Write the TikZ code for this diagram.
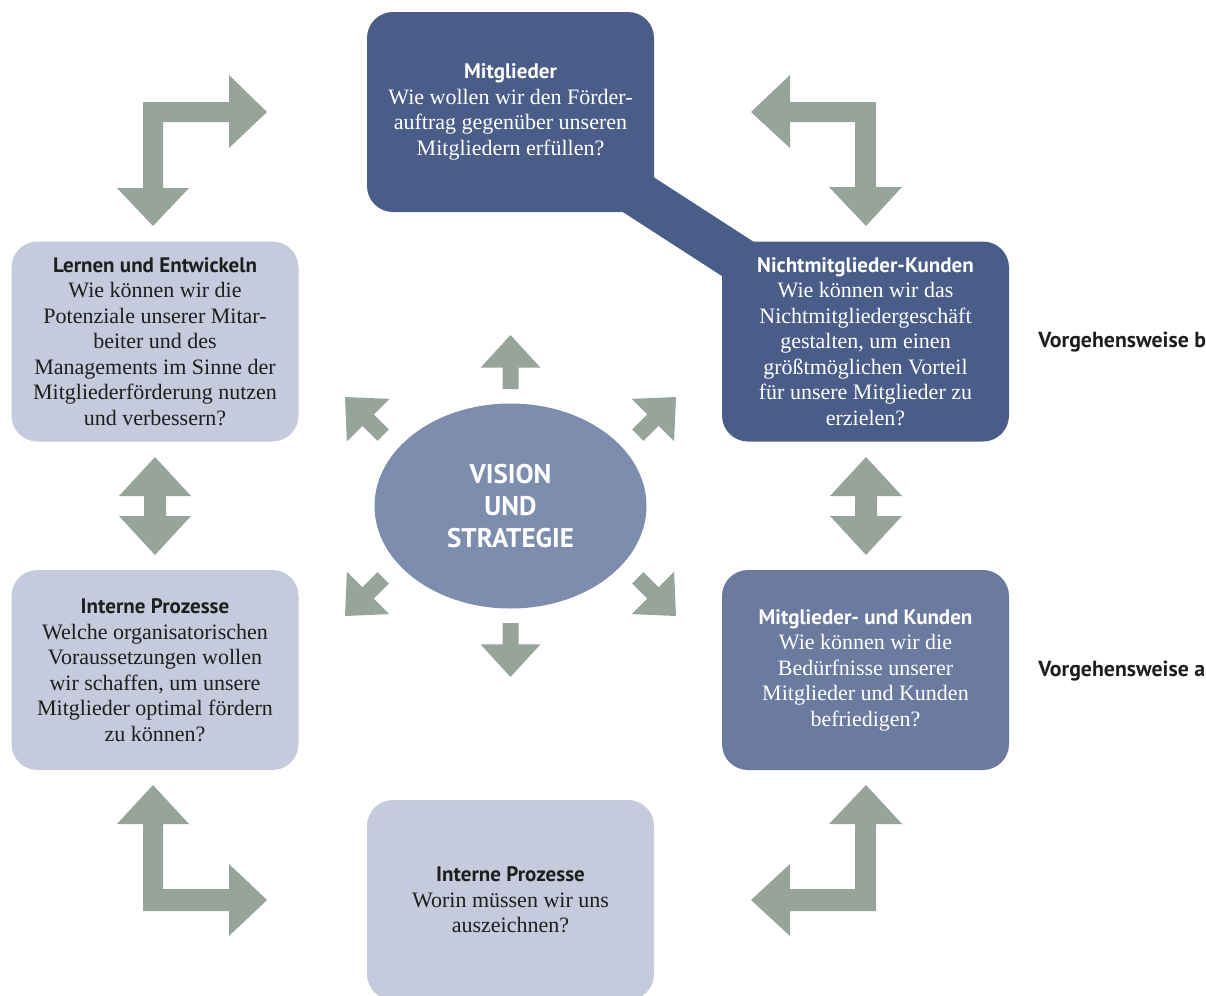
\documentclass[tikz,border=0pt]{standalone}
\usepackage{fontspec}
\setmainfont{Liberation Serif}
\setsansfont{PT Sans}
\usetikzlibrary{shapes.geometric,backgrounds}
\definecolor{dunkelblau}{RGB}{74,93,137}
\definecolor{mittelblau}{RGB}{107,123,160}
\definecolor{hellblau}{RGB}{197,202,220}
\definecolor{ovalblau}{RGB}{125,141,174}
\definecolor{pfeilgrau}{RGB}{150,164,156}
\definecolor{schrift}{RGB}{30,30,30}
\newcommand{\titel}[1]{{\sffamily\bfseries\fontsize{10.5}{12.75}\selectfont #1}}
\tikzset{
  feld/.style={rounded corners=13pt, minimum width=143.5pt, minimum height=100pt,
    inner sep=0pt, align=center, font=\fontsize{11}{12.75}\selectfont},
  dunkel/.style={feld, fill=dunkelblau, text=white},
  mittel/.style={feld, fill=mittelblau, text=white},
  hell/.style={feld, fill=hellblau, text=schrift},
  pfeil/.style={fill=pfeilgrau},
  seite/.style={anchor=west, inner sep=0pt, text=schrift, font=\sffamily\bfseries\fontsize{10.9}{12.75}\selectfont},
  ctrpfeil/.pic={\fill[pfeil] (0,0) -- (30,32.7) -- (8,32.7) -- (8,54) -- (-8,54)
    -- (-8,32.7) -- (-30,32.7) -- cycle;}
}
\begin{document}
\begin{tikzpicture}[x=0.5pt,y=-0.5pt]
\useasboundingbox (0,0) rectangle (1206,996);

% Kaestchen
\node[dunkel] (mitgl) at (510.5,112) {\titel{Mitglieder}\\Wie wollen wir den Förder-\\auftrag gegenüber unseren\\Mitgliedern erfüllen?};
\node[dunkel] (nicht) at (865.5,341.5) {\titel{Nichtmitglieder-Kunden}\\Wie können wir das\\Nichtmitgliedergeschäft\\gestalten, um einen\\größtmöglichen Vorteil\\für unsere Mitglieder zu\\erzielen?};
\node[hell] (lernen) at (155,341.5) {\titel{Lernen und Entwickeln}\\Wie können wir die\\Potenziale unserer Mitar-\\beiter und des\\Managements im Sinne der\\Mitgliederförderung nutzen\\und verbessern?};
\node[hell] (intlinks) at (155,670) {\titel{Interne Prozesse}\\Welche organisatorischen\\Voraussetzungen wollen\\wir schaffen, um unsere\\Mitglieder optimal fördern\\zu können?};
\node[mittel] (mukunden) at (865.5,670) {\titel{Mitglieder- und Kunden}\\Wie können wir die\\Bedürfnisse unserer\\Mitglieder und Kunden\\befriedigen?};
\node[hell] (intunten) at (510.5,900) {\titel{Interne Prozesse}\\Worin müssen wir uns\\auszeichnen?};

\begin{scope}[on background layer]
\draw[line width=23pt, dunkelblau] (mitgl.center) -- (nicht.center);
\end{scope}

% Mitte
\node[ellipse, fill=ovalblau, minimum width=136pt, minimum height=102.5pt, inner sep=0pt,
  text=white, align=center, font=\sffamily\bfseries\fontsize{13.5}{16}\selectfont]
  (vision) at (510.5,506) {VISION\\UND\\STRATEGIE};
\pic at (510.5,335) {ctrpfeil};
\pic[rotate=180] at (510.5,677) {ctrpfeil};
\pic[rotate=45] at (345,397) {ctrpfeil};
\pic[rotate=-45] at (676,397) {ctrpfeil};
\pic[rotate=135] at (345,616) {ctrpfeil};
\pic[rotate=-135] at (676,616) {ctrpfeil};

% Winkelpfeile
\fill[pfeil] (143,102) -- (229,102) -- (229,75) -- (267,112) -- (229,148) -- (229,122) -- (163,122)
  -- (163,188) -- (189,188) -- (153,226) -- (117,188) -- (143,188) -- cycle;
\fill[pfeil] (876,102) -- (790,102) -- (790,75) -- (751,112) -- (790,148) -- (790,122) -- (855,122)
  -- (855,187) -- (829,187) -- (866,226) -- (902,187) -- (876,187) -- cycle;
\fill[pfeil] (143,911) -- (229,911) -- (229,936) -- (267,900) -- (229,864) -- (229,889) -- (163,889)
  -- (163,824) -- (189,824) -- (153,785) -- (117,824) -- (143,824) -- cycle;
\fill[pfeil] (876,911) -- (790,911) -- (790,936) -- (751,900) -- (790,864) -- (790,889) -- (855,889)
  -- (855,824) -- (829,824) -- (866,785) -- (902,824) -- (876,824) -- cycle;

% Doppelpfeile
\foreach \x in {155,866}
  \fill[pfeil] (\x,457) -- ++(36,39) -- ++(-25,0) -- ++(0,20) -- ++(25,0) -- (\x,555)
    -- ++(-36,-39) -- ++(25,0) -- ++(0,-20) -- ++(-25,0) -- cycle;

% Rechts
\node[seite] (vorgb) at (1038,342) {Vorgehensweise b};
\node[seite] (vorga) at (1038,671) {Vorgehensweise a};
\end{tikzpicture}
\end{document}
